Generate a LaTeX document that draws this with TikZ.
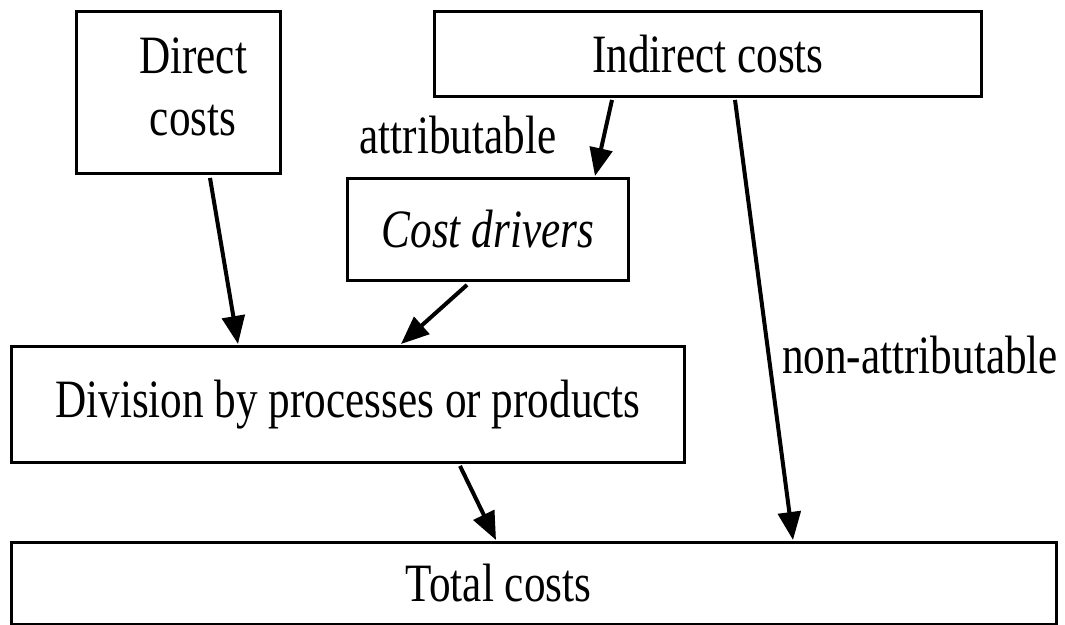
\documentclass[tikz,border=0pt]{standalone}
\usepackage{fontspec}
\setmainfont{Liberation Serif}
\usepackage{graphicx}
\usetikzlibrary{arrows.meta,calc}

% text is set slightly taller than wide
\newcommand{\tall}[1]{\scalebox{1}[1.25]{#1}}

\begin{document}
\begin{tikzpicture}[x=0.75pt,y=-0.75pt,
  box/.style={draw=black, line width=2.2pt, inner sep=0pt, anchor=north west,
    font=\fontsize{32.4}{37.2}\selectfont},
  lbl/.style={inner sep=0pt, font=\fontsize{32.4}{37.2}\selectfont},
  arr/.style={draw=black, line width=3pt, -{Triangle[length=21pt,width=17pt]}}]

\useasboundingbox (0,0) rectangle (1065,625);

% cost boxes
\node[box, minimum width=153pt, minimum height=121.5pt] (direct) at (75,10)
  {\kern22pt\tall{\begin{tabular}{@{}c@{}}Direct\\costs\end{tabular}}};
\node[box, minimum width=410.25pt, minimum height=63.75pt] (indirect) at (433,10)
  {\tall{Indirect costs}};
\node[box, minimum width=210.75pt, minimum height=76.5pt] (drivers) at (346,177)
  {\tall{\itshape Cost drivers}};
\node[box, minimum width=504.75pt, minimum height=87pt] (division) at (10,345)
  {\tall{Division by processes or products}};
\node[box, minimum width=783.75pt, minimum height=61.5pt] (total) at (10,541)
  {\tall{Total costs}\kern53pt};

% flow labels
\node[lbl] (attr) at (458,135) {\tall{attributable}};
\node[lbl] (nonattr) at (920,355) {\tall{non-attributable}};

% connectors
\draw[arr] ($(direct.south west)+(135,3)$) -- ($(division.north west)+(228,-1)$);
\draw[arr] ($(indirect.south west)+(179,2)$) -- ($(drivers.north west)+(249,-1)$);
\draw[arr] ($(drivers.south west)+(121,3)$) -- ($(division.north west)+(391,-1)$);
\draw[arr] ($(indirect.south west)+(302,2)$) -- ($(total.north west)+(783,-1)$);
\draw[arr] ($(division.south west)+(450,2)$) -- ($(total.north west)+(486,-1)$);

\end{tikzpicture}
\end{document}
